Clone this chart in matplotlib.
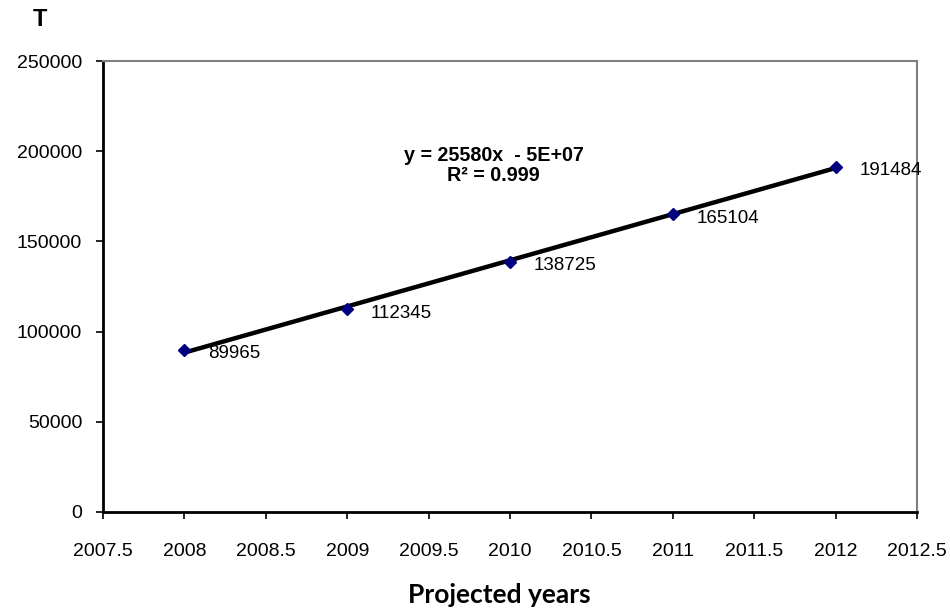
import numpy as np
import matplotlib
matplotlib.use("Agg")
import matplotlib.pyplot as plt

years = [2008, 2009, 2010, 2011, 2012]
values = [89965, 112345, 138725, 165104, 191484]
x_ticks = [2007.5, 2008, 2008.5, 2009, 2009.5, 2010, 2010.5, 2011, 2011.5, 2012, 2012.5]
y_ticks = [0, 50000, 100000, 150000, 200000, 250000]

plt.rcParams['font.family'] = ['Liberation Sans', 'DejaVu Sans']
plt.rcParams['font.sans-serif'] = ['Liberation Sans', 'DejaVu Sans']

fig = plt.figure(figsize=(9.5, 6.08), dpi=100)
ax = fig.add_axes([103 / 950, 1 - 512 / 608, (917 - 103) / 950, (512 - 61) / 608])

# linear trendline
slope, intercept = np.polyfit(years, values, 1)
fit_x = np.array([years[0], years[-1]])
ax.plot(fit_x, slope * fit_x + intercept, color='black', lw=3.2, zorder=2, solid_capstyle='butt')

ax.plot(years, values, linestyle='none', marker='D', markersize=6,
        color='#000080', markeredgecolor='#000080', zorder=3)

for xv, yv in zip(years, values):
    ax.annotate(str(yv), (xv, yv), xytext=(17, -3), textcoords='offset points',
                ha='left', va='center', fontsize=13.5)

ax.text(2009.9, 197800, 'y = 25580x  - 5E+07', ha='center', va='center',
        fontsize=14.2, fontweight='bold')
ax.text(2009.9, 186800, 'R² = 0.999', ha='center', va='center',
        fontsize=14.2, fontweight='bold')

ax.set_xlim(2007.5, 2012.5)
ax.set_ylim(0, 250000)
ax.set_xticks(x_ticks)
ax.set_xticklabels([('%g' % t) for t in x_ticks])
ax.set_yticks(y_ticks)
ax.set_yticklabels([str(t) for t in y_ticks])
ax.tick_params(axis='both', direction='out', length=5, width=1.2, labelsize=14, color='black')
ax.tick_params(axis='x', pad=17)
ax.tick_params(axis='y', pad=10)

for side in ('top', 'right'):
    ax.spines[side].set_color('#808080')
    ax.spines[side].set_linewidth(1.5)
for side in ('left', 'bottom'):
    ax.spines[side].set_color('black')
    ax.spines[side].set_linewidth(2)

fig.text(40 / 950, 1 - 19 / 608, 'T', ha='center', va='center',
         fontsize=17, fontweight='bold')
fig.text(499 / 950, 1 - 603 / 608, 'Projected years', ha='center', va='baseline',
         fontsize=19, fontweight='bold', family=['Lato', 'DejaVu Sans'])

fig.savefig('out.png', dpi=100, facecolor='white')
